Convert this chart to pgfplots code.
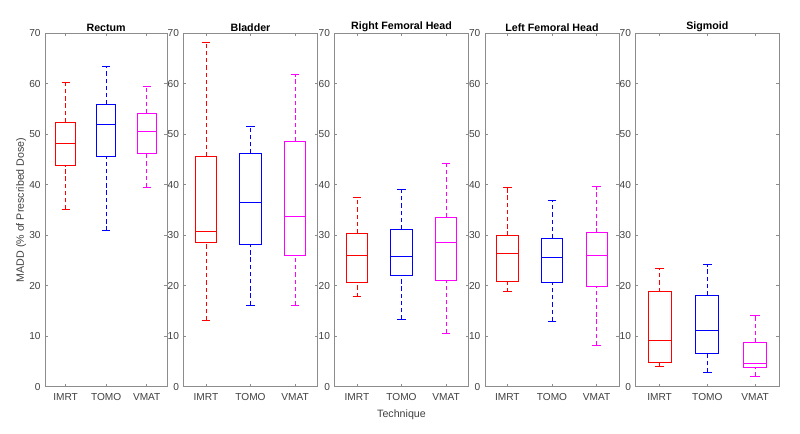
\documentclass[border=0pt]{standalone}
\usepackage{fontspec}
\setmainfont{Liberation Sans}
\usepackage{pgfplots}
\pgfplotsset{compat=1.18}
\definecolor{axgray}{rgb}{0.55,0.55,0.55}
\definecolor{txtgray}{rgb}{0.25,0.25,0.25}
\definecolor{cIMRT}{rgb}{1,0,0}
\definecolor{cTOMO}{rgb}{0,0,1}
\definecolor{cVMAT}{rgb}{1,0,1}
\pgfplotsset{
  panel/.style={
    scale only axis, anchor=south west,
    height=265.05pt,
    xmin=0.5, xmax=3.5, ymin=0, ymax=70,
    ytick={0,10,...,70}, xtick={1,2,3}, xticklabels={IMRT,TOMO,VMAT},
    tick pos=both, ticklabel pos=left, tick align=inside,
    major tick length=2pt,
    axis line style={axgray, line width=0.6pt},
    tick style={axgray, line width=0.6pt},
    ticklabel style={font=\fontsize{7.6}{9}\selectfont, text=txtgray},
    /pgf/number format/assume math mode=true,
    xticklabel style={yshift=-1.5pt},
    title style={font=\bfseries\fontsize{8}{9.6}\selectfont, yshift=-8.2pt},
    label style={font=\fontsize{8}{9.6}\selectfont, text=txtgray},
    unbounded coords=jump,
  },
  bx/.style={line width=0.6pt, solid, line cap=rect, line join=miter, mark=none},
  wh/.style={line width=0.6pt, dash pattern=on 3.2pt off 2.2pt, mark=none},
}
% \bx{colour}{position}{lower whisker}{lower quartile}{median}{upper quartile}{upper whisker}
\newcommand{\bx}[7]{%
  \pgfmathsetmacro\bxL{#2-0.24}\pgfmathsetmacro\bxR{#2+0.24}%
  \pgfmathsetmacro\cpL{#2-0.09}\pgfmathsetmacro\cpR{#2+0.09}%
  \edef\doplots{%
  \noexpand\addplot[wh, color=#1] coordinates {(#2,#6) (#2,#7) (nan,nan) (#2,#3) (#2,#4)};
  \noexpand\addplot[bx, color=#1] coordinates {(\bxL,#4) (\bxR,#4) (\bxR,#6) (\bxL,#6) (\bxL,#4)
     (nan,nan) (\bxL,#5) (\bxR,#5) (nan,nan) (\cpL,#7) (\cpR,#7) (nan,nan) (\cpL,#3) (\cpR,#3)};
  }\doplots}
\begin{document}
\begin{tikzpicture}
\useasboundingbox (0,0) rectangle (600pt,324.75pt);
% Rectum
\begin{axis}[panel, at={(33.975pt,34.725pt)}, width=91.275pt, title={Rectum},
  ylabel={MADD (\% of Prescribed Dose)}, ylabel style={yshift=-4.5pt}]
\bx{cIMRT}{1}{35.1}{43.8}{48.2}{52.4}{60.2}
\bx{cTOMO}{2}{30.9}{45.6}{52.0}{55.9}{63.4}
\bx{cVMAT}{3}{39.5}{46.2}{50.5}{54.1}{59.5}
\end{axis}
% Bladder
\begin{axis}[panel, at={(137.775pt,34.725pt)}, width=100.2pt, title={Bladder}]
\bx{cIMRT}{1}{13.1}{28.5}{30.7}{45.7}{68.2}
\bx{cTOMO}{2}{16.2}{28.1}{36.6}{46.2}{51.6}
\bx{cVMAT}{3}{16.1}{26.0}{33.7}{48.6}{61.8}
\end{axis}
% Right Femoral Head
\begin{axis}[panel, at={(251.025pt,34.725pt)}, width=100.2pt, title={Right Femoral Head},
  xlabel={Technique}]
\bx{cIMRT}{1}{17.8}{20.7}{26.0}{30.4}{37.5}
\bx{cTOMO}{2}{13.3}{22.1}{25.9}{31.2}{39.0}
\bx{cVMAT}{3}{10.6}{21.1}{28.5}{33.5}{44.2}
\end{axis}
% Left Femoral Head
\begin{axis}[panel, at={(363.75pt,34.725pt)}, width=100.5pt, title={Left Femoral Head}]
\bx{cIMRT}{1}{18.8}{20.8}{26.5}{29.9}{39.5}
\bx{cTOMO}{2}{13.0}{20.7}{25.6}{29.4}{37.0}
\bx{cVMAT}{3}{8.2}{19.8}{26.1}{30.5}{39.6}
\end{axis}
% Sigmoid
\begin{axis}[panel, at={(476.775pt,34.725pt)}, width=107.475pt, title={Sigmoid}]
\bx{cIMRT}{1}{4.0}{4.8}{9.2}{18.8}{23.4}
\bx{cTOMO}{2}{2.8}{6.5}{11.2}{18.1}{24.3}
\bx{cVMAT}{3}{2.0}{3.8}{4.7}{8.8}{14.2}
\end{axis}
\end{tikzpicture}
\end{document}
